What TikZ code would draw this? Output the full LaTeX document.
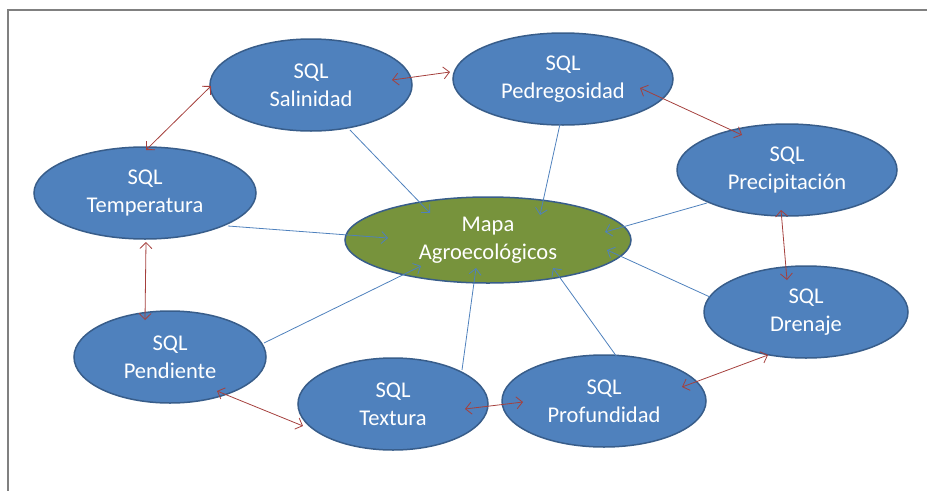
\documentclass[tikz,border=0pt]{standalone}
\usepackage{fontspec}
\setmainfont{Carlito}
\usetikzlibrary{shapes.geometric,arrows.meta}
\definecolor{sqlfill}{RGB}{79,129,189}
\definecolor{sqlline}{RGB}{56,93,138}
\definecolor{mapfill}{RGB}{119,147,60}
\definecolor{redline}{RGB}{165,64,61}
\definecolor{frame}{RGB}{128,128,128}
\tikzset{
  sqlnode/.style={ellipse, draw=sqlline, line width=1.5pt, fill=sqlfill, inner sep=0pt,
    text=white, align=center, font=\fontsize{22.5}{28}\selectfont},
  mapnode/.style={sqlnode, fill=mapfill},
  bluearrow/.style={draw=sqlfill, line width=0.8pt, -{Straight Barb[length=6pt,width=12pt]}},
  redarrow/.style={draw=redline, line width=0.8pt, {Straight Barb[length=6pt,width=12pt]}-{Straight Barb[length=6pt,width=12pt]}},
}
\begin{document}
\begin{tikzpicture}[x=1pt,y=-1pt]
\useasboundingbox (0,0) rectangle (927,491);
\draw[frame, line width=1.2pt] (927,10) coordinate (fr1) -- (8,10) coordinate (fr2) -- (8,491) coordinate (fr3);

\node[sqlnode, minimum width=202pt, minimum height=92pt] (sal) at (311,85) {SQL\\Salinidad};
\node[sqlnode, minimum width=222pt, minimum height=92pt] (tem) at (145,193) {SQL\\Temperatura};
\node[sqlnode, minimum width=220pt, minimum height=92pt] (ped) at (563,79) {SQL\\Pedregosidad};
\node[sqlnode, minimum width=220pt, minimum height=92pt] (pre) at (787,170) {SQL\\Precipitación};
\node[mapnode, minimum width=286pt, minimum height=86pt] (mapa) at (488,240) {Mapa\\Agroecológicos};
\node[sqlnode, minimum width=192pt, minimum height=92pt] (pen) at (170,357) {SQL\\Pendiente};
\node[sqlnode, minimum width=190pt, minimum height=92pt] (tex) at (393,404) {SQL\\Textura};
\node[sqlnode, minimum width=204pt, minimum height=92pt] (pro) at (604,401) {SQL\\Profundidad};
\node[sqlnode, minimum width=204pt, minimum height=92pt] (dre) at (806,312) {SQL\\Drenaje};

% blue connectors to the central map
\draw[bluearrow] ([shift={(39,45)}]sal.center) -- ([shift={(-58,-27)}]mapa.center);
\draw[bluearrow] ([shift={(-3,45)}]ped.center) -- ([shift={(52,-25)}]mapa.center);
\draw[bluearrow] ([shift={(-80,33)}]pre.center) -- ([shift={(117,-8)}]mapa.center);
\draw[bluearrow] ([shift={(-96,-15)}]dre.center) -- ([shift={(119,10)}]mapa.center);
\draw[bluearrow] ([shift={(13,-44)}]pro.center) -- ([shift={(65,28)}]mapa.center);
\draw[bluearrow] ([shift={(69,-34)}]tex.center) -- ([shift={(-12,28)}]mapa.center);
\draw[bluearrow] ([shift={(94,-14)}]pen.center) -- ([shift={(-67,26)}]mapa.center);
\draw[bluearrow] ([shift={(83,33)}]tem.center) -- ([shift={(-100,-2)}]mapa.center);

% red double arrows between neighbours
\draw[redarrow] ([shift={(1,-43)}]tem.center) -- ([shift={(-100,1)}]sal.center);
\draw[redarrow] ([shift={(81,-5)}]sal.center) -- ([shift={(-113,-7)}]ped.center);
\draw[redarrow] ([shift={(77,9)}]ped.center) -- ([shift={(-45,-35)}]pre.center);
\draw[redarrow] ([shift={(-6,40)}]pre.center) -- ([shift={(-19,-32)}]dre.center);
\draw[redarrow] ([shift={(-38,43)}]dre.center) -- ([shift={(78,-14)}]pro.center);
\draw[redarrow] ([shift={(-81,1)}]pro.center) -- ([shift={(72,5)}]tex.center);
\draw[redarrow] ([shift={(-90,22)}]tex.center) -- ([shift={(47,34)}]pen.center);
\draw[redarrow] ([shift={(-25,-37)}]pen.center) -- ([shift={(1,49)}]tem.center);
\end{tikzpicture}
\end{document}
